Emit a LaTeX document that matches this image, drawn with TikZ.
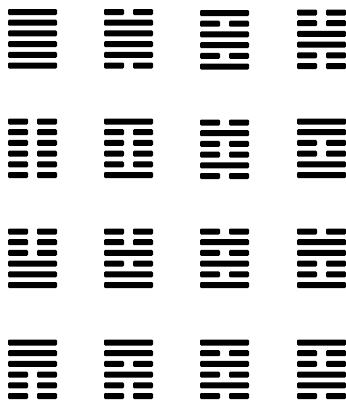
\documentclass[tikz,border=0pt]{standalone}
\begin{document}
\begin{tikzpicture}[x=1pt,y=-1pt,
  hexline/.style={fill=black,rounded corners=1.2pt}]
\useasboundingbox (0,0) rectangle (346,400);
\newcommand\myhexagram[3]{%
  \foreach \b [count=\i from 0] in {#3} {%
    \pgfmathsetmacro\yy{#2+\i*10.7}%
    \ifnum\b=1
      \path[hexline] (#1,\yy-3) rectangle ++(49,6);
    \else
      \path[hexline] (#1,\yy-3) rectangle ++(20,6);
      \path[hexline] (#1+29,\yy-3) rectangle ++(20,6);
    \fi
  }}
% row 1
\myhexagram{8}{12}{1,1,1,1,1,1}
\myhexagram{104}{12}{0,1,1,1,1,0}
\myhexagram{200}{13}{1,0,1,1,0,1}
\myhexagram{297}{12.5}{0,0,1,1,0,0}
% row 2
\myhexagram{8}{121.5}{0,0,0,0,0,0}
\myhexagram{104}{121.5}{1,0,0,0,0,1}
\myhexagram{200}{122.5}{0,1,0,0,1,0}
\myhexagram{297}{121.5}{1,1,0,0,1,1}
% row 3
\myhexagram{8}{231.5}{0,0,0,1,1,1}
\myhexagram{104}{231.5}{0,0,1,0,1,1}
\myhexagram{200}{231.5}{0,1,0,1,0,1}
\myhexagram{297}{231.5}{0,1,1,0,0,1}
% row 4
\myhexagram{8}{342.5}{1,1,1,0,0,0}
\myhexagram{104}{342.5}{1,1,0,1,0,0}
\myhexagram{200}{342.5}{1,0,1,0,1,0}
\myhexagram{297}{342.5}{1,0,0,1,1,0}
\end{tikzpicture}
\end{document}
